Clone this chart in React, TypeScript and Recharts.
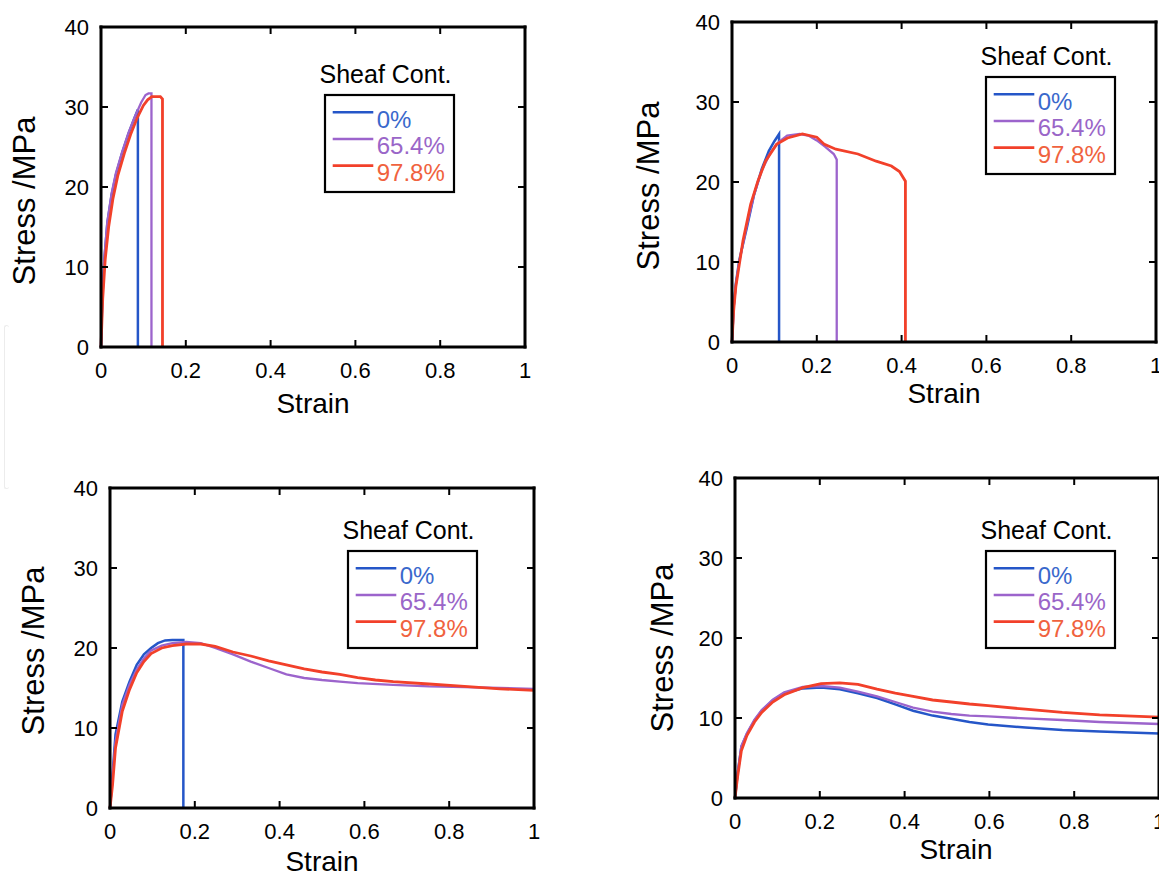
import React from 'react'
import { LineChart, Line, XAxis, YAxis, Legend, ReferenceLine } from 'recharts'

type Pt = [number, number]

const font = "'Liberation Sans', Arial, Helvetica, sans-serif"

const seriesNames = ['0%', '65.4%', '97.8%']
const lineColors = ['#2556c8', '#9c64cc', '#f2402a']
const textColors = ['#3a68cc', '#9a66c8', '#f0623e']
const lineWidths = [2.5, 2.3, 2.8]
const strainTicks = [0, 0.2, 0.4, 0.6, 0.8, 1]
const stressTicks = [0, 10, 20, 30, 40]

// top left panel
const aBlue: Pt[] = [[0, 0], [0.003, 6], [0.008, 11], [0.015, 15.5], [0.025, 19], [0.035, 21.5], [0.05, 24.3], [0.065, 26.7], [0.078, 28.5], [0.087, 29.7], [0.087, 0]]
const aPurple: Pt[] = [[0, 0], [0.003, 6.2], [0.008, 11.2], [0.015, 15.7], [0.025, 19.2], [0.035, 21.7], [0.05, 24.4], [0.065, 26.8], [0.08, 28.8], [0.095, 30.6], [0.105, 31.5], [0.112, 31.7], [0.119, 31.7], [0.119, 0]]
const aRed: Pt[] = [[0, 0], [0.004, 6], [0.01, 11], [0.018, 15], [0.028, 18.5], [0.04, 21.5], [0.055, 24.2], [0.07, 26.6], [0.085, 28.6], [0.1, 30.2], [0.11, 30.9], [0.12, 31.3], [0.14, 31.3], [0.145, 31], [0.145, 0]]

// top right panel
const bBlue: Pt[] = [[0, 0], [0.004, 4.5], [0.009, 7.3], [0.017, 10.2], [0.035, 14.3], [0.052, 18.4], [0.07, 21.6], [0.087, 23.9], [0.1, 25.1], [0.111, 26], [0.111, 0]]
const bPurple: Pt[] = [[0, 0], [0.004, 4.3], [0.009, 7.1], [0.017, 10], [0.035, 14.6], [0.052, 18.4], [0.07, 21.4], [0.09, 23.6], [0.11, 25], [0.13, 25.8], [0.16, 26], [0.18, 25.8], [0.2, 25.2], [0.22, 24.4], [0.24, 23.5], [0.247, 22.8], [0.247, 0]]
const bRed: Pt[] = [[0, 0], [0.004, 4], [0.009, 6.9], [0.026, 12.7], [0.044, 17.2], [0.061, 20.1], [0.079, 22.6], [0.105, 24.7], [0.131, 25.5], [0.166, 26], [0.2, 25.6], [0.218, 24.7], [0.245, 24.1], [0.297, 23.5], [0.34, 22.6], [0.376, 22], [0.395, 21.3], [0.409, 20.1], [0.409, 0]]

// bottom left panel
const cBlue: Pt[] = [[0, 0], [0.006, 4.2], [0.013, 9.2], [0.029, 13.3], [0.046, 15.8], [0.063, 17.9], [0.08, 19.2], [0.097, 20], [0.113, 20.6], [0.13, 20.95], [0.147, 21], [0.173, 21], [0.173, 0]]
const cPurple: Pt[] = [[0, 0], [0.006, 3.8], [0.013, 8.3], [0.029, 12.9], [0.046, 15.4], [0.063, 17.3], [0.08, 18.7], [0.097, 19.7], [0.122, 20.3], [0.147, 20.6], [0.18, 20.75], [0.214, 20.6], [0.248, 20], [0.29, 19.2], [0.332, 18.3], [0.374, 17.5], [0.416, 16.7], [0.458, 16.25], [0.5, 16], [0.542, 15.8], [0.584, 15.6], [0.668, 15.4], [0.752, 15.2], [0.836, 15.1], [0.92, 15], [1, 14.9]]
const cRed: Pt[] = [[0, 0], [0.006, 2.9], [0.013, 7.5], [0.029, 12.1], [0.046, 14.8], [0.063, 16.9], [0.08, 18.3], [0.097, 19.3], [0.122, 20], [0.147, 20.3], [0.18, 20.5], [0.214, 20.5], [0.248, 20.2], [0.29, 19.5], [0.332, 19], [0.374, 18.4], [0.416, 17.9], [0.458, 17.4], [0.5, 17], [0.542, 16.7], [0.584, 16.3], [0.626, 16], [0.668, 15.8], [0.752, 15.5], [0.836, 15.2], [0.92, 14.9], [1, 14.7]]

// bottom right panel
const dBlue: Pt[] = [[0, 0], [0.006, 3], [0.015, 6.4], [0.028, 8], [0.046, 9.7], [0.063, 10.9], [0.089, 12.2], [0.116, 13.1], [0.16, 13.7], [0.203, 13.8], [0.247, 13.6], [0.29, 13.1], [0.335, 12.5], [0.378, 11.7], [0.42, 10.9], [0.466, 10.3], [0.51, 9.9], [0.553, 9.5], [0.597, 9.2], [0.685, 8.8], [0.772, 8.5], [0.86, 8.3], [1, 8.05]]
const dPurple: Pt[] = [[0, 0], [0.006, 3], [0.015, 6.5], [0.028, 8.1], [0.046, 9.8], [0.063, 11], [0.089, 12.3], [0.116, 13.2], [0.16, 13.9], [0.203, 14], [0.247, 13.8], [0.29, 13.3], [0.335, 12.7], [0.378, 12], [0.42, 11.3], [0.466, 10.8], [0.51, 10.5], [0.553, 10.3], [0.597, 10.2], [0.685, 9.95], [0.772, 9.75], [0.86, 9.5], [1, 9.25]]
const dRed: Pt[] = [[0, 0], [0.006, 2.6], [0.015, 5.9], [0.028, 7.8], [0.046, 9.5], [0.063, 10.7], [0.089, 12], [0.116, 12.9], [0.16, 13.8], [0.203, 14.3], [0.247, 14.4], [0.29, 14.2], [0.335, 13.6], [0.378, 13.1], [0.42, 12.7], [0.466, 12.25], [0.51, 12], [0.553, 11.75], [0.597, 11.55], [0.685, 11.1], [0.772, 10.7], [0.86, 10.4], [1, 10.1]]

const toRows = (pts: Pt[]) => pts.map(([x, y]) => ({ x, y }))

// plot box is 424 x 320 in every panel
// chart: 10 left margin + 60 y axis, 1 right axis + 19 right margin, 20 top margin + 1 top axis, 40 x axis + 10 bottom margin
const PW = 424
const PH = 320
const CW = PW + 90
const CH = PH + 71
const PL = 70
const PT = 21
const TICK = 7
// tick length in data units
const tickX = TICK / PW
const tickY = (TICK / PH) * 40

const BottomLabel = ({ x, payload }: any) => (
  <text x={x} y={PT + PH + 15} dy="0.71em" textAnchor="middle" fontSize={22} fontFamily={font} fill="#000">{payload.value}</text>
)
const LeftLabel = ({ y, payload }: any) => (
  <text x={PL - 12} y={y} dy="0.36em" textAnchor="end" fontSize={22} fontFamily={font} fill="#000">{payload.value}</text>
)

function SheafLegend(props: any) {
  const payload = props.payload || []
  return (
    <svg width={150} height={145} style={{ display: 'block', overflow: 'visible' }}>
      <text x={4.5} y={27.5} fontSize={25} fontFamily={font} fill="#000">Sheaf Cont.</text>
      <rect x={10} y={40} width={129} height={97} fill="#fff" stroke="#000" strokeWidth={2.2} />
      {payload.map((p: any) => {
        const i = seriesNames.indexOf(p.value)
        return (
          <g key={p.value}>
            <line x1={17.7} x2={58.3} y1={57.3 + 26.7 * i} y2={57.3 + 26.7 * i} stroke={p.color} strokeWidth={lineWidths[i]} />
            <text x={61.7} y={72.6 + 26.7 * i} fontSize={24} fontFamily={font} fill={textColors[i]}>{p.value}</text>
          </g>
        )
      })}
    </svg>
  )
}

function Panel({ px, py, series, box }: { px: number; py: number; series: Pt[][]; box: [number, number] }) {
  const left = px - PL
  const top = py - PT
  const axisLine = { stroke: '#000', strokeWidth: 3, strokeLinecap: 'square' as const }
  const innerX = strainTicks.slice(1, -1)
  const innerY = stressTicks.slice(1, -1)
  return (
    <div style={{ position: 'absolute', left, top }}>
      <LineChart width={CW} height={CH} margin={{ top: 20, right: 19, bottom: 10, left: 10 }}>
        {series.map((pts, i) => (
          <Line
            key={seriesNames[i]}
            data={toRows(pts)}
            dataKey="y"
            name={seriesNames[i]}
            type="linear"
            stroke={lineColors[i]}
            strokeWidth={lineWidths[i]}
            dot={false}
            activeDot={false}
            isAnimationActive={false}
          />
        ))}
        <XAxis dataKey="x" type="number" domain={[0, 1]} ticks={strainTicks} interval={0} height={40}
          tick={BottomLabel} tickLine={false} axisLine={axisLine} />
        <XAxis xAxisId="top" orientation="top" dataKey="x" type="number" domain={[0, 1]} ticks={strainTicks} interval={0} height={1}
          tick={false} tickLine={false} axisLine={axisLine} />
        <YAxis type="number" domain={[0, 40]} ticks={stressTicks} interval={0} width={60}
          tick={LeftLabel} tickLine={false} axisLine={axisLine} />
        <YAxis yAxisId="right" orientation="right" type="number" domain={[0, 40]} ticks={stressTicks} interval={0} width={1}
          tick={false} tickLine={false} axisLine={axisLine} />
        {/* inward tick marks on all four sides */}
        {innerX.map((t) => (
          <ReferenceLine key={`b${t}`} segment={[{ x: t, y: 0 }, { x: t, y: tickY }]} stroke="#000" strokeWidth={2} />
        ))}
        {innerX.map((t) => (
          <ReferenceLine key={`t${t}`} segment={[{ x: t, y: 40 }, { x: t, y: 40 - tickY }]} stroke="#000" strokeWidth={2} />
        ))}
        {innerY.map((t) => (
          <ReferenceLine key={`l${t}`} segment={[{ x: 0, y: t }, { x: tickX, y: t }]} stroke="#000" strokeWidth={2} />
        ))}
        {innerY.map((t) => (
          <ReferenceLine key={`r${t}`} segment={[{ x: 1, y: t }, { x: 1 - tickX, y: t }]} stroke="#000" strokeWidth={2} />
        ))}
        <Legend
          layout="horizontal"
          verticalAlign="middle"
          align="center"
          content={(p: any) => <SheafLegend {...p} />}
          wrapperStyle={{ left: box[0] - 10 - left, top: box[1] - 40 - top, width: 150, height: 145 }}
        />
      </LineChart>
    </div>
  )
}

const panels = [
  { px: 101, py: 27, series: [aBlue, aPurple, aRed], box: [325, 95] as [number, number], strain: [313, 412.5], stress: [35, 201] },
  { px: 732, py: 22, series: [bBlue, bPurple, bRed], box: [986, 77] as [number, number], strain: [944, 403], stress: [659, 186] },
  { px: 110, py: 488, series: [cBlue, cPurple, cRed], box: [348, 551] as [number, number], strain: [322, 871], stress: [44, 651] },
  { px: 735, py: 478, series: [dBlue, dPurple, dRed], box: [986, 551] as [number, number], strain: [956, 858.5], stress: [672.5, 648] },
]

export default function App() {
  return (
    <div style={{ position: 'absolute', left: 0, top: 0, width: 1159, height: 876, overflow: 'hidden', background: '#fff' }}>
      <div style={{ position: 'absolute', left: 4, top: 325, width: 4, height: 162, border: '1.5px solid #ececec', borderRight: 'none', borderRadius: 3 }} />
      <svg width={1159} height={876} style={{ position: 'absolute', left: 0, top: 0 }}>
        {panels.map((p, i) => (
          <g key={i} fontFamily={font} fill="#000">
            <text x={p.strain[0]} y={p.strain[1]} fontSize={28} textAnchor="middle">Strain</text>
            <text x={p.stress[0]} y={p.stress[1]} fontSize={31} textAnchor="middle"
              transform={`rotate(-90 ${p.stress[0]} ${p.stress[1]})`}>Stress /MPa</text>
          </g>
        ))}
      </svg>
      {panels.map((p, i) => (
        <Panel key={i} px={p.px} py={p.py} series={p.series} box={p.box} />
      ))}
    </div>
  )
}
